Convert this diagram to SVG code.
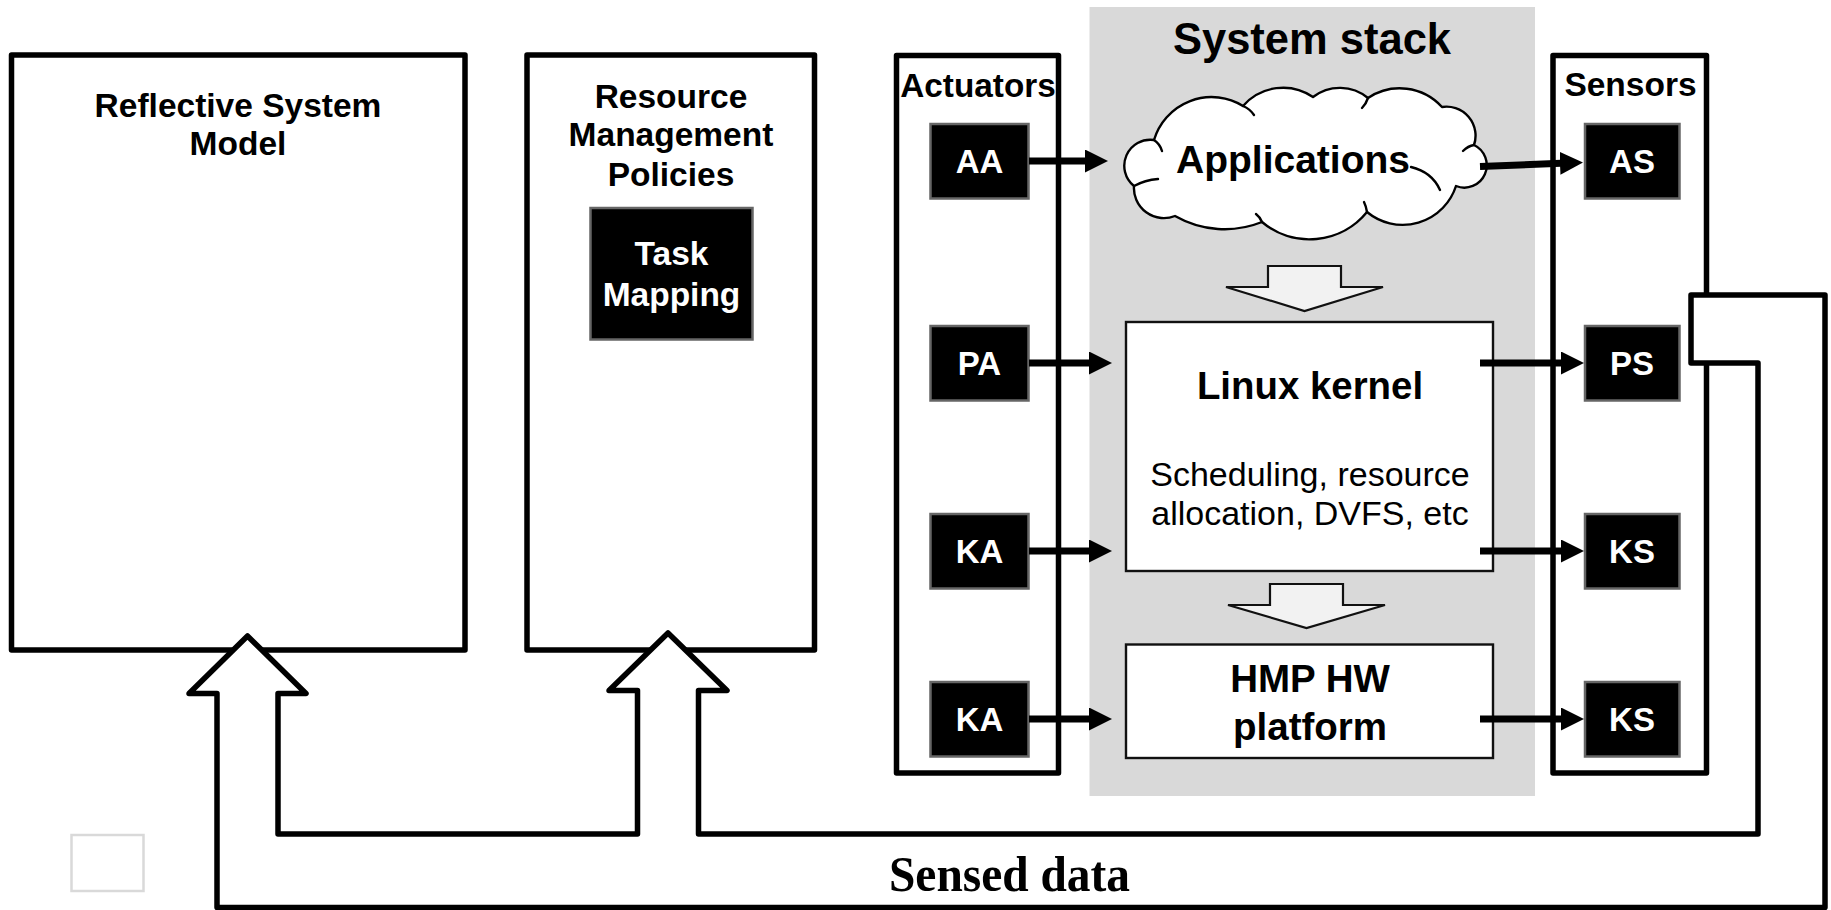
<svg xmlns="http://www.w3.org/2000/svg" width="1831" height="910" viewBox="0 0 1831 910">
  <style>
    .box { fill: #fff; stroke: #000; stroke-width: 5.5; stroke-linejoin: round; }
    .blk { fill: #000; stroke: #666; stroke-width: 2.5; }
    .layer { fill: #fff; stroke: #111; stroke-width: 2.4; }
    .down { fill: #f2f2f2; stroke: #111; stroke-width: 2.2; }
    .t { font-family: "Liberation Sans", Arial, sans-serif; font-weight: bold; text-anchor: middle; fill: #000; }
    .r { font-family: "Liberation Sans", Arial, sans-serif; font-weight: normal; text-anchor: middle; fill: #000; }
    .w { fill: #fff; }
    .link { stroke: #000; stroke-width: 7; fill: none; marker-end: url(#head); }
    .feedback { fill: #fff; stroke: #000; stroke-width: 5.5; stroke-linejoin: round; }
    .cloud { fill: #fff; stroke: #000; stroke-width: 2.4; stroke-linejoin: round; }
    .curl { fill: none; stroke: #000; stroke-width: 2.4; stroke-linecap: round; }
  </style>
  <defs>
    <marker id="head" markerUnits="userSpaceOnUse" viewBox="0 0 23 23" markerWidth="23" markerHeight="23" refX="1" refY="11.5" orient="auto">
      <path d="M0,0 L23,11.5 L0,23 Z" fill="#000"/>
    </marker>
  </defs>

  <rect width="1831" height="910" fill="#fff"/>

  <!-- system stack background -->
  <g id="system-stack">
    <rect x="1089.5" y="7" width="445.5" height="789" fill="#d9d9d9"/>
    <text class="t" x="1312" y="53.5" font-size="43.5">System stack</text>
  </g>

  <g id="reflective-model">
    <rect class="box" x="11.5" y="55" width="453.5" height="595"/>
    <text class="t" x="238" y="117" font-size="33.5">Reflective System</text>
    <text class="t" x="238" y="155" font-size="33.5">Model</text>
  </g>

  <g id="policies">
    <rect class="box" x="527" y="55" width="287.5" height="595"/>
    <text class="t" x="671" y="108" font-size="33.5">Resource</text>
    <text class="t" x="671" y="146" font-size="33.5">Management</text>
    <text class="t" x="671" y="186" font-size="33.5">Policies</text>
  </g>

  <g id="task-mapping">
    <rect class="blk" x="590.5" y="208" width="162" height="131.5"/>
    <text class="t w" x="671.5" y="265" font-size="33.5">Task</text>
    <text class="t w" x="671.5" y="306" font-size="33.5">Mapping</text>
  </g>

  <g id="actuators">
    <rect class="box" x="896.5" y="55.5" width="162" height="717.5"/>
    <text class="t" x="978" y="96.5" font-size="33.3">Actuators</text>
  </g>

  <g id="sensors">
    <rect class="box" x="1553" y="55.5" width="153.5" height="717.5"/>
    <text class="t" x="1630.5" y="96" font-size="33.5">Sensors</text>
  </g>

  <g id="aa">
    <rect class="blk" x="930.5" y="124" width="98" height="74.5"/>
    <text class="t w" x="979.5" y="173" font-size="33">AA</text>
  </g>
  <g id="pa">
    <rect class="blk" x="930.5" y="326" width="98" height="74.5"/>
    <text class="t w" x="979.5" y="375" font-size="33">PA</text>
  </g>
  <g id="ka-kernel">
    <rect class="blk" x="930.5" y="514" width="98" height="74.5"/>
    <text class="t w" x="979.5" y="563" font-size="33">KA</text>
  </g>
  <g id="ka-platform">
    <rect class="blk" x="930.5" y="682" width="98" height="74.5"/>
    <text class="t w" x="979.5" y="731" font-size="33">KA</text>
  </g>

  <g id="as">
    <rect class="blk" x="1585" y="124" width="94.5" height="74.5"/>
    <text class="t w" x="1632" y="173" font-size="33">AS</text>
  </g>
  <g id="ps">
    <rect class="blk" x="1585" y="326" width="94.5" height="74.5"/>
    <text class="t w" x="1632" y="375" font-size="33">PS</text>
  </g>
  <g id="ks-kernel">
    <rect class="blk" x="1585" y="514" width="94.5" height="74.5"/>
    <text class="t w" x="1632" y="563" font-size="33">KS</text>
  </g>
  <g id="ks-platform">
    <rect class="blk" x="1585" y="682" width="94.5" height="74.5"/>
    <text class="t w" x="1632" y="731" font-size="33">KS</text>
  </g>

  <g id="applications">
    <path class="cloud" d="M1134,186 A26,26 0 0,1 1154,140 A60,60 0 0,1 1243,106 A53,53 0 0,1 1313,97 A44,44 0 0,1 1368,98 A57,57 0 0,1 1442,107 A29,29 0 0,1 1474,145 A22.4,22.4 0 0,1 1456,186 A56,56 0 0,1 1367,212 A74,74 0 0,1 1262,222 A100,100 0 0,1 1175,216 A30,30 0 0,1 1134,186 Z"/>
    <path class="curl" d="M1154,140 Q1160,144 1162,151"/>
    <path class="curl" d="M1243,106 Q1250,109 1254,115"/>
    <path class="curl" d="M1368,98 Q1366,104 1362,108"/>
    <path class="curl" d="M1474,145 Q1468,146 1463,151"/>
    <path class="curl" d="M1411,167 Q1432,172 1440,190"/>
    <path class="curl" d="M1367,212 Q1366,206 1364,202"/>
    <path class="curl" d="M1262,222 Q1260,217 1256,214"/>
    <path class="curl" d="M1134,186 Q1145,180 1158,179"/>
    <text class="t" x="1293" y="173" font-size="39">Applications</text>
  </g>

  <g id="stack-flow">
    <path class="down" d="M1268,266 L1341,266 L1341,287 L1383,287 L1304.5,311 L1226,287 L1268,287 Z"/>
    <path class="down" d="M1270,584 L1343,584 L1343,605 L1385,605 L1306.5,628 L1228,605 L1270,605 Z"/>
  </g>

  <g id="linux-kernel">
    <rect class="layer" x="1126" y="322" width="367" height="249"/>
    <text class="t" x="1310" y="399" font-size="38.4">Linux kernel</text>
    <text class="r" x="1310" y="486" font-size="34">Scheduling, resource</text>
    <text class="r" x="1310" y="525" font-size="34">allocation, DVFS, etc</text>
  </g>

  <g id="hmp-platform">
    <rect class="layer" x="1126" y="644.5" width="367" height="113.5"/>
    <text class="t" x="1310" y="692" font-size="38.5">HMP HW</text>
    <text class="t" x="1310" y="740" font-size="38.5">platform</text>
  </g>

  <g id="legend-box">
    <rect x="71.5" y="835" width="72" height="56" fill="#fff" stroke="#d9d9d9" stroke-width="2.5"/>
  </g>

  <g id="connectors">
    <!-- actuators into the stack -->
    <line class="link" x1="1029" y1="161" x2="1086" y2="161"/>
    <line class="link" x1="1029" y1="363" x2="1090" y2="363"/>
    <line class="link" x1="1029" y1="551" x2="1090" y2="551"/>
    <line class="link" x1="1029" y1="719" x2="1090" y2="719"/>
    <!-- stack out to sensors -->
    <line class="link" x1="1480" y1="166.5" x2="1561" y2="163.3"/>
    <line class="link" x1="1480" y1="363" x2="1562" y2="363"/>
    <line class="link" x1="1480" y1="551" x2="1562" y2="551"/>
    <line class="link" x1="1480" y1="719" x2="1562" y2="719"/>
    <!-- sensed data feedback band with two heads -->
    <path class="feedback" d="M247.5,636 L306,693.5 L278,693.5 L278,834 L637.5,834 L637.5,690.5 L609,690.5 L668,633 L727,690.5 L698.5,690.5 L698.5,834 L1758,834 L1758,363 L1691,363 L1691,295 L1825,295 L1825,907.5 L217,907.5 L217,693.5 L189,693.5 Z"/>
    <text x="889" y="890.5" font-family="'Liberation Serif', 'Times New Roman', serif" font-weight="bold" font-size="51" textLength="241" lengthAdjust="spacingAndGlyphs">Sensed data</text>
  </g>
</svg>
